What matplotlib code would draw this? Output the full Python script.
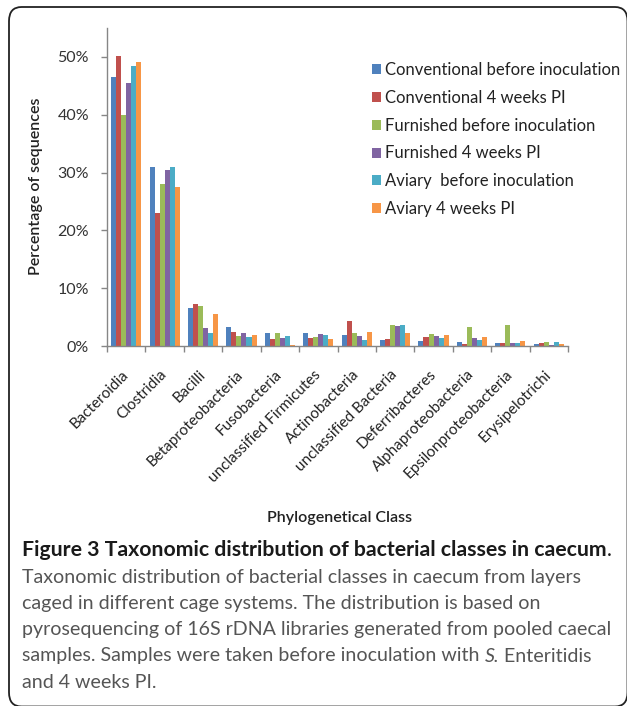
import matplotlib
matplotlib.use("Agg")
import matplotlib.pyplot as plt
import numpy as np
from matplotlib.patches import FancyBboxPatch

plt.rcParams['font.family'] = ['Lato', 'DejaVu Sans']

categories = ["Bacteroidia", "Clostridia", "Bacilli", "Betaproteobacteria", "Fusobacteria",
              "unclassified Firmicutes", "Actinobacteria", "unclassified Bacteria",
              "Deferribacteres", "Alphaproteobacteria", "Epsilonproteobacteria", "Erysipelotrichi"]

series_names = ["Conventional before inoculation", "Conventional 4 weeks PI",
                "Furnished before inoculation", "Furnished 4 weeks PI",
                "Aviary  before inoculation", "Aviary 4 weeks PI"]

conv_before = [46.5, 31.0, 6.6, 3.2, 2.2, 2.2, 1.85, 1.05, 0.85, 0.7, 0.6, 0.4]
conv_pi     = [50.2, 23.0, 7.3, 2.5, 1.15, 1.4, 4.4, 1.15, 1.6, 0.3, 0.6, 0.6]
furn_before = [40.0, 28.1, 7.0, 1.7, 2.3, 1.55, 2.2, 3.6, 2.1, 3.35, 3.6, 0.7]
furn_pi     = [45.5, 30.4, 3.05, 2.2, 1.4, 2.0, 1.7, 3.5, 1.7, 1.45, 0.6, 0.25]
avi_before  = [48.4, 31.0, 2.3, 1.55, 1.7, 1.85, 1.05, 3.6, 1.45, 1.05, 0.6, 0.75]
avi_pi      = [49.2, 27.5, 5.5, 1.85, 0.2, 1.15, 2.5, 2.2, 1.9, 1.6, 0.85, 0.3]

series = [conv_before, conv_pi, furn_before, furn_pi, avi_before, avi_pi]
colors = ["#4F81BD", "#C0504D", "#9BBB59", "#8064A2", "#4BACC6", "#F79646"]

ytick_labels = ["0%", "10%", "20%", "30%", "40%", "50%"]

caption_title = "Figure 3 Taxonomic distribution of bacterial classes in caecum"
caption_lines = ["Taxonomic distribution of bacterial classes in caecum from layers",
                 "caged in different cage systems. The distribution is based on",
                 "pyrosequencing of 16S rDNA libraries generated from pooled caecal"]
caption_l5 = ["samples. Samples were taken before inoculation with ", "S.", " Enteritidis"]
caption_l6 = "and 4 weeks PI."

W, H = 627, 706
fig = plt.figure(figsize=(W / 100, H / 100), dpi=100)

# rounded frame
frame = FancyBboxPatch((9 / W, 1 - 706.5 / H), (627.5 - 9) / W, (706.5 - 7) / H,
                       boxstyle="round,pad=0,rounding_size=0.02",
                       transform=fig.transFigure, fill=False,
                       edgecolor="#222222", linewidth=1.3, clip_on=False)
fig.patches.append(frame)

ax_l, ax_r, ax_t, ax_b = 107, 568, 28, 346
ax = fig.add_axes([ax_l / W, 1 - ax_b / H, (ax_r - ax_l) / W, (ax_b - ax_t) / H])

n = len(categories)
x = np.arange(n)
bw = 0.131
for i, (vals, c, name) in enumerate(zip(series, colors, series_names)):
    ax.bar(x + (i - 2.5) * bw, np.array(vals) / 100.0, width=bw, color=c,
           label=name, linewidth=0)

ax.set_xlim(-0.5, n - 0.5)
ax.set_ylim(0, 0.55)
ax.set_yticks(np.arange(0, 0.51, 0.1))
ax.set_yticklabels(ytick_labels)

ax.set_xticks(x)
ax.set_xticklabels(categories, rotation=45, ha="right", va="center",
                   rotation_mode="anchor")
ax.set_xticks(np.arange(-0.5, n, 1.0), minor=True)
ax.tick_params(axis="x", which="major", length=0, pad=19, labelsize=11,
               labelcolor="#222222")
ax.tick_params(axis="x", which="minor", length=4.5, width=1, color="#868686",
               direction="out")
ax.tick_params(axis="y", length=4.5, width=1, color="#868686", direction="out",
               pad=8.5, labelsize=11.5, labelcolor="#333333")

for s in ["top", "right"]:
    ax.spines[s].set_visible(False)
for s in ["left", "bottom"]:
    ax.spines[s].set_color("#868686")
    ax.spines[s].set_linewidth(1)

ax.set_facecolor("none")

fig.text(36 / W, 1 - 186 / H, "Percentage of sequences", rotation=90,
         ha="center", va="center", fontsize=11.5, fontweight="semibold", color="#222222")
fig.text(340 / W, 1 - 518 / H, "Phylogenetical Class", ha="center", va="center",
         fontsize=11.5, fontweight="semibold", color="#222222")

leg = ax.legend(loc="upper left", bbox_to_anchor=(372 / W, 1 - 62 / H),
                bbox_transform=fig.transFigure, frameon=False,
                handlelength=0.55, handleheight=0.55, handletextpad=0.25,
                labelspacing=0.71, fontsize=12, borderaxespad=0, borderpad=0)
for t in leg.get_texts():
    t.set_color("#222222")

# caption
cap_x = 22 / W
fig.canvas.draw()
r = fig.canvas.get_renderer()

# fit font sizes to the measured line widths of the reference
probe = fig.text(0, 0, caption_title, fontsize=10, fontweight="bold")
tsize = 10 * 586 / probe.get_window_extent(renderer=r).width
probe.remove()
probe = fig.text(0, 0, caption_lines[2], fontsize=10)
bsize = 10 * 588 / probe.get_window_extent(renderer=r).width
probe.remove()

t1 = fig.text(cap_x, 1 - 550 / H, caption_title,
              ha="left", va="center", fontsize=tsize, fontweight="bold", color="#1a1a1a")
bb = t1.get_window_extent(renderer=r)
fig.text(bb.x1 / W, 1 - 550 / H, ".", ha="left", va="center", fontsize=tsize,
         color="#1a1a1a")

cap_kw = dict(ha="left", va="center", fontsize=bsize, color="#555555")
ys = [577, 603.5, 630]
for s, yy in zip(caption_lines, ys):
    fig.text(cap_x, 1 - yy / H, s, **cap_kw)

y5 = 656
ta = fig.text(cap_x, 1 - y5 / H, caption_l5[0], **cap_kw)
bb = ta.get_window_extent(renderer=r)
tb = fig.text(bb.x1 / W, 1 - y5 / H, caption_l5[1], style="italic", **cap_kw)
bb2 = tb.get_window_extent(renderer=r)
fig.text(bb2.x1 / W, 1 - y5 / H, caption_l5[2], **cap_kw)
fig.text(cap_x, 1 - 682 / H, caption_l6, **cap_kw)

fig.savefig("out.png", dpi=100)
